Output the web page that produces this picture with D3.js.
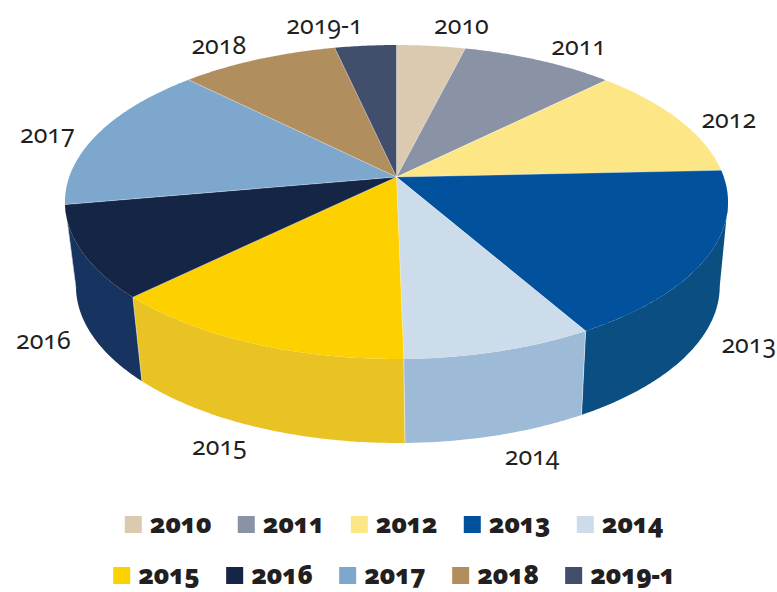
<!DOCTYPE html>
<html>
<head>
<meta charset="utf-8">
<script src="https://cdn.jsdelivr.net/npm/d3@7/dist/d3.min.js"></script>
<style>
  body { margin: 0; background: #fff; }
  svg { display: block; }
  .lbl { font-family: "Noto Sans", sans-serif; font-weight: 400; font-size: 25px; fill: #231f20;
         font-variant-numeric: oldstyle-nums; font-feature-settings: "onum" 1; }
  .leg { font-family: "Noto Sans", sans-serif; font-weight: 900; font-size: 26px; fill: #231f20;
         letter-spacing: -0.4px;
         font-variant-numeric: oldstyle-nums; font-feature-settings: "onum" 1; }
</style>
</head>
<body>
<svg id="chart" width="777" height="592"></svg>
<script>
// Share of records per year (percent)
const categories = ["2010", "2011", "2012", "2013", "2014", "2015", "2016", "2017", "2018", "2019-1"];
const shares = [3.9, 8.7, 11.7, 17.4, 8.0, 13.0, 9.5, 15.3, 9.0, 3.5];

// Palette: top faces and outer walls
const topColors  = ["#dccab0", "#8a93a6", "#fde685", "#02519c", "#cddcea", "#fdd000", "#152546", "#7ea7cd", "#b18e5e", "#414f6c"];
const sideColors = ["#bfae94", "#737c8f", "#e5cd6c", "#0a4e82", "#9dbad6", "#e8c323", "#17335f", "#6a91b6", "#99784a", "#333f59"];

const svg = d3.select("#chart");

// Perspective disc: centre of the disc, half-axes and a foreshortening term
const cx = 396.5, cy = 177, ax = 327.3, by = 153, persp = -0.1592, depth = 84;
// the base rim recedes slightly: horizontal shrink about a fixed column
const baseShrink = 0.971, baseOrigin = 443;

function project(theta, k = 1) {
  const u = k * Math.sin(theta), v = -k * Math.cos(theta);
  const den = 1 + persp * v;
  return [cx + ax * u / den, cy + by * v / den];
}
function projectBase(theta) {
  const [x, y] = project(theta);
  return [baseOrigin + (x - baseOrigin) * baseShrink, y + depth];
}

function sample(a0, a1, fn) {
  const n = Math.max(2, Math.ceil((a1 - a0) / 0.01));
  return d3.range(n + 1).map(i => fn(a0 + (a1 - a0) * i / n));
}

const pie = d3.pie().sort(null).value(d => d.value).startAngle(0).endAngle(2 * Math.PI);
const slices = pie(categories.map((c, i) => ({ name: c, value: shares[i], i })));

const line = d3.line();

// Outer walls visible between the left and right silhouette points
const frontStart = Math.acos(persp), frontEnd = 2 * Math.PI - Math.acos(persp);
const walls = svg.append("g");
slices.forEach(s => {
  const a0 = Math.max(s.startAngle, frontStart), a1 = Math.min(s.endAngle, frontEnd);
  if (a1 <= a0) return;
  const pts = sample(a0, a1, a => project(a)).concat(sample(a0, a1, projectBase).reverse());
  walls.append("path")
    .attr("d", line(pts) + "Z")
    .attr("fill", sideColors[s.data.i]);
});
// seams between neighbouring walls
slices.forEach(s => {
  const a = s.startAngle;
  if (a > frontStart && a < frontEnd) {
    walls.append("path")
      .attr("d", line([project(a), projectBase(a)]))
      .attr("stroke", "rgba(255,255,255,0.6)").attr("stroke-width", 0.8);
  }
});

// Top faces
const tops = svg.append("g");
slices.forEach(s => {
  const pts = [[cx, cy]].concat(sample(s.startAngle, s.endAngle, a => project(a)));
  tops.append("path")
    .attr("d", line(pts) + "Z")
    .attr("fill", topColors[s.data.i]);
});
slices.forEach(s => {
  tops.append("path")
    .attr("d", line([[cx, cy], project(s.startAngle)]))
    .attr("stroke", "rgba(255,255,255,0.45)").attr("stroke-width", 0.7);
});

// Category labels: each box sits just outside the rim in the slice's direction
const labels = svg.append("g");
const gapY = 11, gapX = 25;
slices.forEach(s => {
  const mid = (s.startAngle + s.endAngle) / 2;
  const dx = Math.sin(mid), dy = -Math.cos(mid);
  const [px, py] = dy > 0 ? projectBase(mid) : project(mid);
  const t = labels.append("text")
    .attr("class", "lbl")
    .attr("text-anchor", "middle")
    .attr("dominant-baseline", "central")
    .text(s.data.name);
  const w = t.node().getComputedTextLength(), h = 23;
  t.attr("x", px + Math.sign(dx) * w / 2 + dx * gapX)
   .attr("y", py + Math.pow(dy, 3) * (h / 2 + gapY));
});

// Legend: two centred rows of five
const rows = [categories.slice(0, 5), categories.slice(5)];
const rowBase = [533, 584], step = 113, box = 17, gap = 8, legendCenter = 394;
rows.forEach((row, r) => {
  const g = svg.append("g");
  row.forEach((name, j) => {
    const idx = categories.indexOf(name);
    const x = j * step;
    g.append("rect")
      .attr("x", x).attr("y", rowBase[r] - box)
      .attr("width", box).attr("height", box)
      .attr("fill", topColors[idx]);
    g.append("text")
      .attr("class", "leg")
      .attr("x", x + box + gap).attr("y", rowBase[r])
      .text(name);
  });
  const bb = g.node().getBBox();
  g.attr("transform", `translate(${legendCenter - bb.width / 2 - bb.x},0)`);
});
</script>
</body>
</html>
